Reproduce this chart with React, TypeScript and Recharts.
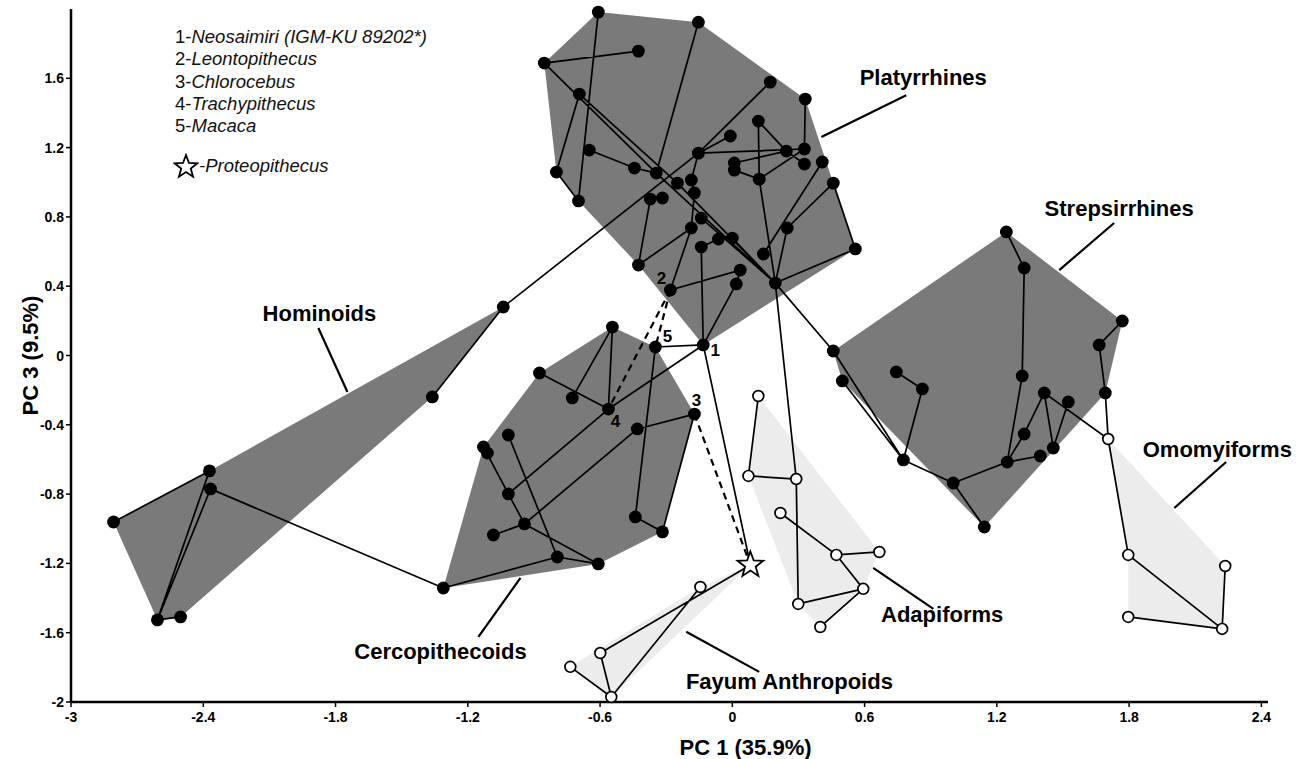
import React from "react";
import { ScatterChart, Scatter, XAxis, YAxis } from "recharts";

type Pt = { id: string; x: number; y: number };

// PC1 / PC3 scores, extant groups (filled markers)
const platyrrhines: Pt[] = [
  { id: "P1", x: -0.608, y: 1.982 },
  { id: "P2", x: -0.154, y: 1.924 },
  { id: "P3", x: -0.426, y: 1.757 },
  { id: "P4", x: -0.853, y: 1.688 },
  { id: "P5", x: -0.694, y: 1.509 },
  { id: "P6", x: 0.172, y: 1.578 },
  { id: "P7", x: 0.331, y: 1.48 },
  { id: "P8", x: 0.118, y: 1.353 },
  { id: "P9", x: -0.009, y: 1.267 },
  { id: "P10", x: -0.649, y: 1.186 },
  { id: "P11", x: -0.154, y: 1.168 },
  { id: "P12", x: 0.245, y: 1.18 },
  { id: "P13", x: 0.327, y: 1.192 },
  { id: "P14", x: 0.009, y: 1.111 },
  { id: "P15", x: 0.009, y: 1.07 },
  { id: "P16", x: 0.327, y: 1.105 },
  { id: "P17", x: 0.408, y: 1.117 },
  { id: "P18", x: -0.798, y: 1.059 },
  { id: "P19", x: -0.444, y: 1.082 },
  { id: "P20", x: -0.345, y: 1.053 },
  { id: "P21", x: -0.186, y: 1.013 },
  { id: "P22", x: -0.249, y: 0.995 },
  { id: "P23", x: 0.122, y: 1.018 },
  { id: "P24", x: 0.458, y: 0.995 },
  { id: "P25", x: -0.172, y: 0.938 },
  { id: "P26", x: -0.372, y: 0.903 },
  { id: "P27", x: -0.317, y: 0.909 },
  { id: "P28", x: -0.698, y: 0.892 },
  { id: "P29", x: -0.141, y: 0.793 },
  { id: "P30", x: -0.186, y: 0.736 },
  { id: "P31", x: -0.063, y: 0.672 },
  { id: "P32", x: 0.0, y: 0.678 },
  { id: "P33", x: -0.141, y: 0.626 },
  { id: "P34", x: 0.249, y: 0.736 },
  { id: "P35", x: 0.141, y: 0.586 },
  { id: "P36", x: 0.558, y: 0.615 },
  { id: "P37", x: -0.426, y: 0.522 },
  { id: "P38", x: 0.036, y: 0.493 },
  { id: "P39", x: 0.018, y: 0.413 },
  { id: "P40", x: -0.281, y: 0.378 },
  { id: "P41", x: -0.132, y: 0.061 },
  { id: "P42", x: 0.195, y: 0.418 },
];

const cercopithecoids: Pt[] = [
  { id: "C1", x: -0.544, y: 0.164 },
  { id: "C2", x: -0.349, y: 0.049 },
  { id: "C3", x: -0.875, y: -0.101 },
  { id: "C4", x: -0.726, y: -0.245 },
  { id: "C5", x: -0.562, y: -0.309 },
  { id: "C6", x: -0.172, y: -0.338 },
  { id: "C7", x: -0.431, y: -0.424 },
  { id: "C8", x: -1.016, y: -0.459 },
  { id: "C9", x: -1.129, y: -0.528 },
  { id: "C10", x: -1.111, y: -0.563 },
  { id: "C11", x: -1.016, y: -0.799 },
  { id: "C12", x: -0.943, y: -0.972 },
  { id: "C13", x: -1.084, y: -1.036 },
  { id: "C14", x: -0.44, y: -0.932 },
  { id: "C15", x: -0.317, y: -1.018 },
  { id: "C16", x: -0.794, y: -1.163 },
  { id: "C17", x: -0.608, y: -1.203 },
  { id: "C18", x: -1.311, y: -1.342 },
];

const hominoids: Pt[] = [
  { id: "H1", x: -1.039, y: 0.28 },
  { id: "H2", x: -1.361, y: -0.239 },
  { id: "H3", x: -2.372, y: -0.666 },
  { id: "H4", x: -2.367, y: -0.77 },
  { id: "H5", x: -2.807, y: -0.961 },
  { id: "H6", x: -2.608, y: -1.526 },
  { id: "H7", x: -2.503, y: -1.509 },
];

const strepsirrhines: Pt[] = [
  { id: "S1", x: 1.243, y: 0.713 },
  { id: "S2", x: 1.324, y: 0.505 },
  { id: "S3", x: 1.769, y: 0.199 },
  { id: "S4", x: 1.664, y: 0.061 },
  { id: "S5", x: 0.458, y: 0.026 },
  { id: "S6", x: 0.499, y: -0.147 },
  { id: "S7", x: 0.744, y: -0.095 },
  { id: "S8", x: 0.862, y: -0.193 },
  { id: "S9", x: 1.315, y: -0.118 },
  { id: "S10", x: 1.415, y: -0.216 },
  { id: "S11", x: 1.524, y: -0.268 },
  { id: "S12", x: 1.692, y: -0.216 },
  { id: "S13", x: 1.324, y: -0.453 },
  { id: "S14", x: 1.456, y: -0.534 },
  { id: "S15", x: 1.397, y: -0.58 },
  { id: "S16", x: 1.247, y: -0.615 },
  { id: "S17", x: 0.776, y: -0.603 },
  { id: "S18", x: 1.002, y: -0.736 },
  { id: "S19", x: 1.143, y: -0.99 },
];

// fossil groups (open markers)
const omomyiforms: Pt[] = [
  { id: "O1", x: 1.705, y: -0.482 },
  { id: "O2", x: 1.796, y: -1.151 },
  { id: "O3", x: 2.236, y: -1.215 },
  { id: "O4", x: 1.796, y: -1.509 },
  { id: "O5", x: 2.222, y: -1.578 },
];

const adapiforms: Pt[] = [
  { id: "A1", x: 0.118, y: -0.234 },
  { id: "A2", x: 0.073, y: -0.695 },
  { id: "A3", x: 0.29, y: -0.713 },
  { id: "A4", x: 0.218, y: -0.909 },
  { id: "A5", x: 0.472, y: -1.151 },
  { id: "A6", x: 0.667, y: -1.134 },
  { id: "A7", x: 0.594, y: -1.347 },
  { id: "A8", x: 0.299, y: -1.434 },
  { id: "A9", x: 0.399, y: -1.567 },
];

const fayumAnthropoids: Pt[] = [
  { id: "F1", x: -0.145, y: -1.336 },
  { id: "F2", x: -0.599, y: -1.717 },
  { id: "F3", x: -0.735, y: -1.797 },
  { id: "F4", x: -0.549, y: -1.971 },
];

const proteopithecus: Pt[] = [{ id: "PR", x: 0.082, y: -1.209 }];

// convex hull outlines (point ids, in drawing order)
const hullPlatyrrhines = ["P1", "P2", "P7", "P24", "P36", "P41", "P37", "P28", "P18", "P4"];
const hullCercopithecoids = ["C1", "C2", "C6", "C15", "C17", "C18", "C9", "C3"];
const hullHominoids = ["H1", "H2", "H7", "H6", "H5", "H3"];
const hullStrepsirrhines = ["S1", "S3", "S12", "S19", "S6", "S5"];
const hullOmomyiforms = ["O1", "O3", "O5", "O4", "O2"];
const hullAdapiforms = ["A1", "A6", "A7", "A9", "A8", "A2"];
const hullFayum = ["F3", "F1", "PR", "F4"];

// tree branches
const branches: [string, string][] = [
  ["H1", "H2"], ["H1", "P11"], ["H3", "H5"], ["H3", "H6"], ["H4", "H6"], ["H6", "H7"], ["H4", "C18"],
  ["C1", "C4"], ["C1", "C5"], ["C3", "C5"], ["C5", "P41"], ["C2", "P41"], ["C2", "C14"], ["C14", "C15"],
  ["C15", "C6"], ["C6", "C7"], ["C7", "C12"], ["C5", "C11"], ["C9", "C10"], ["C9", "C11"], ["C11", "C12"],
  ["C12", "C17"], ["C12", "C13"], ["C8", "C16"], ["C16", "C17"], ["C18", "C16"],
  ["P41", "PR"],
  ["P1", "P28"], ["P2", "P20"], ["P4", "P3"], ["P4", "P20"], ["P20", "P42"], ["P5", "P22"], ["P22", "P42"],
  ["P5", "P18"], ["P18", "P28"], ["P10", "P19"], ["P19", "P20"], ["P11", "P9"], ["P11", "P13"], ["P11", "P6"],
  ["P11", "P21"], ["P21", "P25"], ["P25", "P30"], ["P14", "P12"], ["P15", "P23"], ["P23", "P8"], ["P8", "P12"],
  ["P12", "P16"], ["P23", "P13"], ["P13", "P7"], ["P23", "P42"], ["P17", "P35"], ["P24", "P36"], ["P34", "P24"],
  ["P34", "P42"], ["P36", "P42"], ["P26", "P27"], ["P26", "P37"], ["P37", "P30"], ["P40", "P38"], ["P38", "P39"],
  ["P40", "P30"], ["P33", "P31"], ["P32", "P42"], ["P29", "P42"], ["P39", "P41"], ["P41", "P33"],
  ["P42", "S5"], ["P42", "A3"],
  ["S5", "S17"], ["S6", "S17"], ["S7", "S8"], ["S8", "S17"], ["S17", "S18"], ["S18", "S19"], ["S18", "S16"],
  ["S16", "S15"], ["S16", "S13"], ["S13", "S10"], ["S10", "S14"], ["S14", "S11"], ["S10", "O1"],
  ["S1", "S2"], ["S2", "S9"], ["S9", "S16"], ["S3", "S4"], ["S4", "S12"], ["S12", "O1"],
  ["O1", "O2"], ["O2", "O5"], ["O3", "O5"], ["O4", "O5"],
  ["A1", "A2"], ["A2", "A3"], ["A3", "A8"], ["A4", "A5"], ["A5", "A6"], ["A5", "A7"], ["A7", "A8"], ["A7", "A9"],
  ["F2", "PR"], ["F4", "F1"], ["F2", "F4"], ["F3", "F4"],
];

const dashedBranches: [string, string][] = [["P40", "C2"], ["P40", "C5"], ["C6", "PR"]];

// numbered taxa
const numberedTaxa = [
  { id: "P41", label: "1" },
  { id: "P40", label: "2" },
  { id: "C6", label: "3" },
  { id: "C5", label: "4" },
  { id: "C2", label: "5" },
];
const numberOffsets: Record<string, [number, number]> = {
  "1": [12, 6], "2": [-9, -12], "3": [2, -14], "4": [7, 12], "5": [12, -11],
};

// group names and their leader lines
const groupNames = [
  { x: 0.866, y: 1.607, text: "Platyrrhines" },
  { x: 1.755, y: 0.851, text: "Strepsirrhines" },
  { x: -1.873, y: 0.245, text: "Hominoids" },
  { x: -1.324, y: -1.711, text: "Cercopithecoids" },
  { x: 0.259, y: -1.884, text: "Fayum Anthropoids" },
  { x: 0.952, y: -1.497, text: "Adapiforms" },
  { x: 2.2, y: -0.54, text: "Omomyiforms" },
];
const leaderStarts = [
  { x: 0.404, y: 1.261 }, { x: 1.483, y: 0.493 }, { x: -1.746, y: -0.211 }, { x: -0.961, y: -1.284 },
  { x: -0.209, y: -1.595 }, { x: 0.639, y: -1.226 }, { x: 2.005, y: -0.88 },
];
const leaderEnds = [
  { x: 0.789, y: 1.502 }, { x: 1.732, y: 0.765 }, { x: -1.878, y: 0.159 }, { x: -1.152, y: -1.624 },
  { x: 0.122, y: -1.826 }, { x: 0.912, y: -1.463 }, { x: 2.24, y: -0.615 },
];

const legendTaxa = [
  { n: "1", name: "Neosaimiri (IGM-KU 89202*)" },
  { n: "2", name: "Leontopithecus" },
  { n: "3", name: "Chlorocebus" },
  { n: "4", name: "Trachypithecus" },
  { n: "5", name: "Macaca" },
];

const xTicks = [-3, -2.4, -1.8, -1.2, -0.6, 0, 0.6, 1.2, 1.8, 2.4];
const yTicks = [-2, -1.6, -1.2, -0.8, -0.4, 0, 0.4, 0.8, 1.2, 1.6];

const allPoints = [
  ...platyrrhines, ...cercopithecoids, ...hominoids, ...strepsirrhines,
  ...omomyiforms, ...adapiforms, ...fayumAnthropoids, ...proteopithecus,
];
const byId: Record<string, Pt> = {};
allPoints.forEach((p) => (byId[p.id] = p));

const hullData = (ids: string[]) => ids.map((id) => byId[id]);
const segmentData = (pairs: [string, string][]) => pairs.flatMap(([a, b]) => [byId[a], byId[b]]);
const leaderData = leaderStarts.flatMap((s, i) => [s, leaderEnds[i]]);

const FONT = "'Liberation Sans', Arial, Helvetica, sans-serif";
const DARK = "#7a7a7a";
const LIGHT = "#ececec";

const noShape = () => <g />;

// Scatter "line" renderers: filled polygon through the points, or separate segments from point pairs
const polygonLine = (fill: string) => (props: any) => (
  <polygon
    points={(props.points || []).map((p: any) => `${p.x},${p.y}`).join(" ")}
    fill={fill}
    stroke="none"
  />
);

const segmentLine = (width: number, dash?: string) => (props: any) => {
  const pts = props.points || [];
  let d = "";
  for (let i = 0; i + 1 < pts.length; i += 2) {
    d += `M${pts[i].x},${pts[i].y}L${pts[i + 1].x},${pts[i + 1].y}`;
  }
  return <path d={d} stroke="#000" strokeWidth={width} fill="none" strokeDasharray={dash} />;
};

const filledDot = (p: any) => <circle cx={p.cx} cy={p.cy} r={6.4} fill="#000" />;
const openDot = (p: any) => (
  <circle cx={p.cx} cy={p.cy} r={5.4} fill="#fff" stroke="#000" strokeWidth={1.7} />
);

const starPath = (cx: number, cy: number, outer: number, inner: number) => {
  const pts: string[] = [];
  for (let i = 0; i < 10; i++) {
    const r = i % 2 === 0 ? outer : inner;
    const a = -Math.PI / 2 + (i * Math.PI) / 5;
    pts.push(`${cx + r * Math.cos(a)},${cy + r * Math.sin(a)}`);
  }
  return pts.join(" ");
};
const starDot = (p: any) => (
  <polygon points={starPath(p.cx, p.cy, 13.5, 5.6)} fill="#fff" stroke="#000" strokeWidth={1.8} />
);

const numberLabel = (p: any) => {
  const [dx, dy] = numberOffsets[p.payload.label];
  return (
    <text x={p.cx + dx} y={p.cy + dy} textAnchor="middle" dominantBaseline="central"
      fontFamily={FONT} fontWeight="bold" fontSize={17} fill="#000">
      {p.payload.label}
    </text>
  );
};

const groupLabel = (p: any) => (
  <text x={p.cx} y={p.cy} textAnchor="middle" dominantBaseline="central"
    fontFamily={FONT} fontWeight="bold" fontSize={22} fill="#000">
    {p.payload.text}
  </text>
);

// tick labels drawn at the positions the axes hand over
const XTick = (p: any) => (
  <text x={p.x} y={p.y + 9} textAnchor="middle" dominantBaseline="central"
    fontFamily={FONT} fontWeight="bold" fontSize={14} fill="#000">
    {String(p.payload.value)}
  </text>
);
const YTick = (p: any) => (
  <text x={p.x} y={p.y} textAnchor="end" dominantBaseline="central"
    fontFamily={FONT} fontWeight="bold" fontSize={14} fill="#000">
    {String(p.payload.value)}
  </text>
);

export default function App() {
  const numbered = numberedTaxa.map((t) => ({ ...byId[t.id], label: t.label }));
  return (
    <div style={{ position: "absolute", left: 0, top: 0, width: 1303, height: 759, background: "#fff" }}>
      <ScatterChart width={1303} height={759} margin={{ top: 9, right: 35, bottom: 0, left: 0 }}>
        <XAxis
          type="number"
          dataKey="x"
          domain={[-3, 2.43]}
          ticks={xTicks}
          height={57}
          stroke="#000"
          axisLine={{ stroke: "#000", strokeWidth: 2.5 }}
          tickLine={{ stroke: "#000", strokeWidth: 1.5 }}
          tickSize={5}
          tickMargin={1}
          tick={XTick}
          label={{
            content: (props: any) => {
              const vb = props.viewBox || { x: 71, y: 702, width: 1197 };
              return (
                <text x={vb.x + vb.width / 2 + 76} y={vb.y + 45} textAnchor="middle" dominantBaseline="central"
                  fontFamily={FONT} fontWeight="bold" fontSize={22} fill="#000">
                  PC 1 (35.9%)
                </text>
              );
            },
          }}
        />
        <YAxis
          type="number"
          dataKey="y"
          domain={[-2, 2]}
          ticks={yTicks}
          width={71}
          stroke="#000"
          axisLine={{ stroke: "#000", strokeWidth: 2.5 }}
          tickLine={{ stroke: "#000", strokeWidth: 1.5 }}
          tickSize={5}
          tickMargin={2}
          tick={YTick}
          label={{
            content: (props: any) => {
              const vb = props.viewBox || { x: 0, y: 9, height: 693 };
              const cx = 30;
              const cy = vb.y + vb.height / 2;
              return (
                <text x={cx} y={cy} transform={`rotate(-90 ${cx} ${cy})`} textAnchor="middle"
                  dominantBaseline="central" fontFamily={FONT} fontWeight="bold" fontSize={22} fill="#000">
                  PC 3 (9.5%)
                </text>
              );
            },
          }}
        />

        {/* group hulls */}
        <Scatter data={hullData(hullHominoids)} line={polygonLine(DARK)} shape={noShape} isAnimationActive={false} />
        <Scatter data={hullData(hullPlatyrrhines)} line={polygonLine(DARK)} shape={noShape} isAnimationActive={false} />
        <Scatter data={hullData(hullCercopithecoids)} line={polygonLine(DARK)} shape={noShape} isAnimationActive={false} />
        <Scatter data={hullData(hullStrepsirrhines)} line={polygonLine(DARK)} shape={noShape} isAnimationActive={false} />
        <Scatter data={hullData(hullOmomyiforms)} line={polygonLine(LIGHT)} shape={noShape} isAnimationActive={false} />
        <Scatter data={hullData(hullAdapiforms)} line={polygonLine(LIGHT)} shape={noShape} isAnimationActive={false} />
        <Scatter data={hullData(hullFayum)} line={polygonLine(LIGHT)} shape={noShape} isAnimationActive={false} />

        {/* branches and leader lines */}
        <Scatter data={segmentData(branches)} line={segmentLine(1.7)} shape={noShape} isAnimationActive={false} />
        <Scatter data={segmentData(dashedBranches)} line={segmentLine(2.2, "7 5")} shape={noShape} isAnimationActive={false} />
        <Scatter data={leaderData} line={segmentLine(2.2)} shape={noShape} isAnimationActive={false} />

        {/* taxa */}
        <Scatter data={platyrrhines} shape={filledDot} isAnimationActive={false} />
        <Scatter data={cercopithecoids} shape={filledDot} isAnimationActive={false} />
        <Scatter data={hominoids} shape={filledDot} isAnimationActive={false} />
        <Scatter data={strepsirrhines} shape={filledDot} isAnimationActive={false} />
        <Scatter data={omomyiforms} shape={openDot} isAnimationActive={false} />
        <Scatter data={adapiforms} shape={openDot} isAnimationActive={false} />
        <Scatter data={fayumAnthropoids} shape={openDot} isAnimationActive={false} />
        <Scatter data={proteopithecus} shape={starDot} isAnimationActive={false} />

        {/* labels */}
        <Scatter data={numbered} shape={numberLabel} isAnimationActive={false} />
        <Scatter data={groupNames} shape={groupLabel} isAnimationActive={false} />
      </ScatterChart>

      <div style={{ position: "absolute", left: 175, top: 26, fontFamily: FONT, fontSize: 18.5, lineHeight: "22.3px", color: "#111" }}>
        {legendTaxa.map((t) => (
          <div key={t.n} style={{ whiteSpace: "nowrap" }}>
            {t.n}-<i>{t.name}</i>
          </div>
        ))}
        <div style={{ display: "flex", alignItems: "center", marginTop: 16, marginLeft: -2, whiteSpace: "nowrap" }}>
          <svg width={26} height={26} style={{ display: "block" }}>
            <polygon points={starPath(13, 14, 12, 5)} fill="#fff" stroke="#000" strokeWidth={1.8} />
          </svg>
          <i>-Proteopithecus</i>
        </div>
      </div>
    </div>
  );
}
